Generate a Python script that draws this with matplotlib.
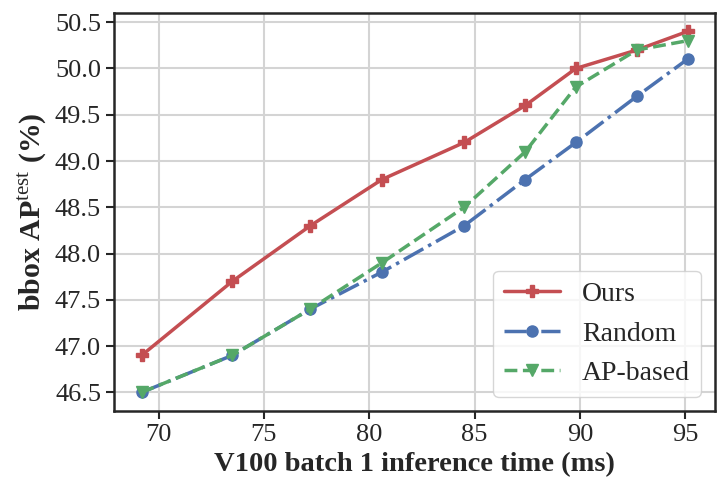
import matplotlib
matplotlib.use('Agg')
import matplotlib.pyplot as plt
import seaborn as sns

# values
time_ours = [69.2, 73.5, 77.2, 80.6, 84.5, 87.4, 89.8, 92.7, 95.1]
ap_ours = [46.9, 47.7, 48.3, 48.8, 49.2, 49.6, 50.0, 50.2, 50.4]
ap_random = [46.5, 46.9, 47.4, 47.8, 48.3, 48.8, 49.2, 49.7, 50.1]
ap_apbased = [46.5, 46.9, 47.4, 47.9, 48.5, 49.1, 49.8, 50.2, 50.3]

xticks = [70, 75, 80, 85, 90, 95]
yticks = [46.5, 47.0, 47.5, 48.0, 48.5, 49.0, 49.5, 50.0, 50.5]

sns.set_theme(style='whitegrid', palette='deep')
sns.set_style('whitegrid', {'axes.edgecolor': '#262626', 'grid.color': '#d4d4d4',
                            'xtick.bottom': True, 'ytick.left': True})
plt.rcParams['font.family'] = ['Liberation Serif', 'DejaVu Serif']
plt.rcParams['mathtext.fontset'] = 'custom'
plt.rcParams['mathtext.rm'] = 'Liberation Serif'
plt.rcParams['mathtext.bf'] = 'Liberation Serif:bold'

red, blue, green = '#C44E52', '#4C72B0', '#55A868'

fig, ax = plt.subplots(figsize=(7.28, 4.98), dpi=100)
ax.plot(time_ours, ap_ours, color=red, marker='P', markersize=9, lw=2.5, ls='-', label='Ours')
ax.plot(time_ours, ap_random, color=blue, marker='o', markersize=8, lw=2.5, ls='-.', label='Random')
ax.plot(time_ours, ap_apbased, color=green, marker='v', markersize=8, lw=2.5, ls='--', label='AP-based')

ax.set_xlim(67.9, 96.4)
ax.set_ylim(46.3, 50.6)
ax.set_xticks(xticks)
ax.set_yticks(yticks)
ax.set_yticklabels([f'{v:.1f}' for v in yticks])
ax.tick_params(labelsize=19, length=6, width=1.5, colors='#262626', labelcolor='#262626')
for s in ax.spines.values():
    s.set_linewidth(1.8)
ax.grid(True, lw=1.5)

ax.set_xlabel('V100 batch 1 inference time (ms)', fontsize=20.5, fontweight='bold', color='#262626')
ax.set_ylabel(r'bbox AP$^{\mathrm{test}}$ (%)', fontsize=21.5, fontweight='bold', color='#262626')

leg = ax.legend(loc='lower right', fontsize=20, handlelength=2, frameon=True)

plt.subplots_adjust(left=0.157, right=0.982, top=0.974, bottom=0.175)
fig.savefig('out.png', dpi=100)
